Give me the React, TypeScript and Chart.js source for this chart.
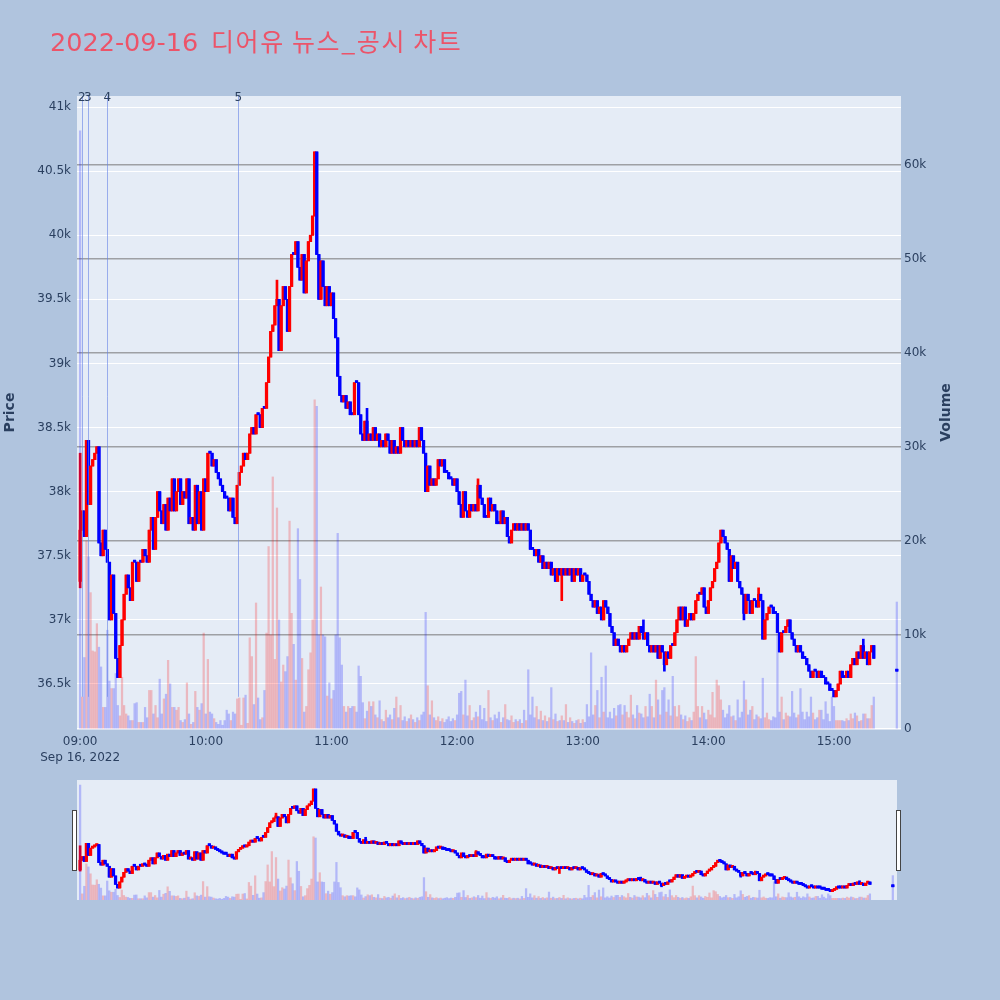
import React, { useEffect, useRef } from "react";
import { Chart, registerables } from "chart.js";

Chart.register(...registerables);

const TITLE_DATE = "2022-09-16";
const TITLE_TEXT = "디어유 뉴스_공시 차트";
const firstOpen = 37300;

// per-minute closes from 09:00 (minute 0) to 15:19 (minute 379)
const closes = [
  37700, 37850, 37650, 38400, 37900, 38200, 38250, 38300, 38350, 37600,
  37500, 37700, 37550, 37450, 37000, 37350, 37050, 36700, 36550, 36800,
  37000, 37200, 37350, 37250, 37150, 37450, 37450, 37300, 37450, 37450,
  37550, 37500, 37450, 37700, 37800, 37550, 37800, 38000, 37850, 37750,
  37900, 37700, 37950, 37850, 38100, 37850, 38000, 38100, 37900, 38000,
  37950, 38100, 37750, 37800, 37700, 38050, 37750, 38000, 37700, 38100,
  38000, 38300, 38300, 38200, 38250, 38150, 38100, 38050, 38000, 37950,
  37950, 37850, 37950, 37800, 37750, 38050, 38150, 38200, 38300, 38250,
  38300, 38450, 38500, 38450, 38600, 38600, 38500, 38650, 38650, 38850,
  39050, 39250, 39300, 39450, 39500, 39100, 39450, 39600, 39500, 39250,
  39600, 39850, 39850, 39950, 39750, 39650, 39850, 39550, 39800, 39950,
  40000, 40150, 40650, 39850, 39500, 39800, 39600, 39450, 39600, 39450,
  39550, 39350, 39200, 38900, 38750, 38700, 38750, 38650, 38700, 38600,
  38600, 38850, 38850, 38600, 38450, 38400, 38550, 38400, 38450, 38400,
  38500, 38400, 38450, 38350, 38400, 38350, 38450, 38400, 38300, 38400,
  38300, 38350, 38300, 38500, 38400, 38350, 38400, 38350, 38400, 38350,
  38400, 38350, 38500, 38400, 38300, 38000, 38200, 38050, 38100, 38050,
  38100, 38250, 38200, 38250, 38150, 38150, 38100, 38100, 38050, 38100,
  38000, 37900, 37800, 38000, 37850, 37800, 37900, 37850, 37900, 37850,
  38050, 37950, 37900, 37800, 37800, 37950, 37850, 37900, 37850, 37750,
  37750, 37850, 37750, 37800, 37650, 37600, 37700, 37750, 37700, 37750,
  37700, 37750, 37700, 37750, 37700, 37550, 37550, 37500, 37550, 37450,
  37500, 37400, 37450, 37400, 37450, 37350, 37400, 37300, 37400, 37350,
  37400, 37350, 37400, 37350, 37400, 37300, 37400, 37350, 37400, 37300,
  37350, 37350, 37300, 37200, 37150, 37100, 37150, 37050, 37100, 37000,
  37150, 37100, 37050, 36950, 36900, 36800, 36850, 36800, 36750, 36800,
  36750, 36800, 36850, 36900, 36850, 36900, 36850, 36950, 36900, 36850,
  36900, 36800, 36750, 36800, 36750, 36800, 36700, 36800, 36750, 36650,
  36750, 36700, 36800, 36800, 36900, 37000, 37100, 37000, 37100, 36950,
  37000, 37050, 37000, 37050, 37150, 37200, 37200, 37250, 37100, 37050,
  37150, 37250, 37300, 37400, 37450, 37600, 37700, 37650, 37600, 37550,
  37300, 37500, 37400, 37450, 37300, 37250, 37200, 37050, 37200, 37150,
  37050, 37150, 37150, 37100, 37200, 37150, 36850, 37000, 37050, 37100,
  37100, 37050, 37050, 36900, 36750, 36900, 36900, 36950, 37000, 36900,
  36850, 36800, 36750, 36800, 36750, 36700, 36700, 36650, 36600, 36550,
  36600, 36600, 36550, 36600, 36550, 36550, 36500, 36500, 36450, 36450,
  36400, 36450, 36500, 36600, 36550, 36550, 36600, 36550, 36650, 36700,
  36650, 36750, 36700, 36800, 36700, 36750, 36650, 36750, 36800, 36700,
];

const volumes = [
  63600, 3400, 7600, 20000, 18300, 14500, 8300, 8200, 11200, 8700,
  6600, 2300, 2300, 10500, 5100, 4300, 4300, 5900, 2500, 1400,
  5500, 2500, 1600, 1400, 900, 900, 2700, 2800, 700, 700,
  700, 2300, 1200, 4100, 4100, 1600, 2500, 1200, 5300, 1600,
  3200, 3700, 7300, 4800, 2300, 2300, 2000, 2300, 900, 700,
  1000, 4900, 1600, 500, 700, 4000, 2300, 2000, 2700, 10200,
  1600, 7400, 1800, 1600, 1100, 700, 500, 900, 400, 900,
  2000, 1600, 900, 1800, 1600, 3200, 3300, 400, 3300, 3600,
  600, 9700, 7700, 2600, 13400, 3300, 1000, 1200, 4100, 10200,
  19400, 10000, 26800, 7400, 23500, 11600, 5000, 6800, 6100, 7700,
  22100, 12300, 9000, 5200, 21300, 15900, 7500, 1800, 2400, 6300,
  8100, 11600, 35000, 34300, 10000, 15100, 10000, 9800, 3500, 4900,
  3200, 4100, 10000, 20800, 9700, 6800, 2400, 1800, 2400, 2200,
  2400, 2400, 1800, 6700, 5600, 2800, 1100, 1900, 2900, 2400,
  2900, 1500, 1200, 3000, 1000, 800, 2000, 1200, 1500, 1000,
  2200, 3400, 1200, 2500, 900, 1300, 800, 1100, 1500, 1000,
  700, 1200, 900, 1500, 1800, 12400, 4600, 1500, 3000, 1200,
  900, 1300, 800, 1100, 700, 1000, 1300, 800, 1100, 900,
  1500, 3800, 4000, 1500, 5200, 1400, 2500, 900, 1200, 1800,
  1300, 2500, 1000, 2200, 800, 4100, 1200, 900, 1500, 1100,
  1800, 700, 1200, 2600, 1000, 900, 1400, 700, 1000, 800,
  1000, 600, 2000, 900, 6300, 1500, 3400, 1200, 2400, 1000,
  1900, 900, 1400, 800, 1200, 4400, 1000, 1600, 800, 900,
  1400, 900, 2600, 700, 1200, 800, 600, 900, 1000, 600,
  1000, 700, 2600, 1300, 8100, 1500, 2500, 4100, 1200, 5500,
  1800, 6700, 1200, 1800, 1100, 2200, 1400, 2500, 2600, 1500,
  2500, 1800, 1200, 3600, 1500, 1100, 2500, 1700, 1600, 1200,
  2400, 1300, 3700, 2400, 1200, 5200, 3100, 1500, 4100, 4400,
  1800, 3100, 1400, 5600, 2400, 1300, 2500, 1500, 1000, 1400,
  800, 1200, 900, 1800, 7700, 2400, 1200, 2400, 1700, 1000,
  2000, 1500, 3900, 1200, 5200, 4600, 3100, 2000, 1200, 1600,
  2500, 1300, 1400, 900, 3100, 1200, 1800, 5100, 3100, 1500,
  2000, 2400, 1000, 1500, 1300, 1100, 5400, 1200, 1700, 1000,
  900, 1300, 1200, 10100, 1800, 3400, 1000, 1700, 1400, 1300,
  4000, 1700, 1200, 1500, 4300, 1800, 1000, 1800, 1300, 3400,
  1700, 1000, 1200, 2000, 2000, 1000, 2900, 1600, 800, 3400,
  2400, 900, 900, 900, 900, 800, 1100, 900, 1600, 1100,
  1700, 1400, 800, 900, 1600, 1600, 1100, 1100, 2500, 3400,
];

// closing auction at 15:30
const auctionMinute = 390;
const auctionPrice = 36600;
const auctionVolume = 13500;

// [minute, low, high] where the wick reaches past the body
const wickExtremes = [
  [0, 37250, 38300],
  [94, 39450, 39650],
  [137, 38400, 38650],
  [190, 37850, 38100],
  [230, 37150, 37400],
  [269, 36850, 37000],
  [279, 36600, 36750],
  [317, 37000, 37200],
  [324, 37100, 37250],
  [374, 36700, 36850],
];

const newsMinutes = [0.8, 3.7, 13.0, 75.5];
const newsLabels = ["2", "3", "4", "5"];

const priceTicks = [36500, 37000, 37500, 38000, 38500, 39000, 39500, 40000, 40500, 41000];
const volumeTicks = [0, 10000, 20000, 30000, 40000, 50000, 60000];
const hourTicks = [0, 60, 120, 180, 240, 300, 360];
const hourLabels = ["09:00", "10:00", "11:00", "12:00", "13:00", "14:00", "15:00"];
const dateLabel = "Sep 16, 2022";

const FONT = '"DejaVu Sans", Verdana, sans-serif';
const TEXT = "#2a3f5f";
const PAGE_BG = "#B0C4DE";
const PLOT_BG = "#E5ECF6";
const UP = "#FF0000";
const DOWN = "#0000FF";
const UP_VOL = "rgba(255,0,0,0.22)";
const DOWN_VOL = "rgba(0,0,255,0.22)";
const TITLE_COLOR = "rgb(236,84,105)";

function buildSeries() {
  const mins = closes.map((_, i) => i).concat([auctionMinute]);
  const cls = closes.concat([auctionPrice]);
  const vols = volumes.concat([auctionVolume]);
  const opens = cls.map((c, i) =>
    i === 0 ? firstOpen : i === closes.length ? auctionPrice : cls[i - 1]
  );
  const lows = cls.map((c, i) => Math.min(c, opens[i]));
  const highs = cls.map((c, i) => Math.max(c, opens[i]));
  wickExtremes.forEach(([m, lo, hi]) => {
    lows[m] = Math.min(lows[m], lo);
    highs[m] = Math.max(highs[m], hi);
  });
  const candleColors = cls.map((c, i) => (c > opens[i] ? UP : DOWN));
  const volColors = cls.map((c, i) => (i > 0 && c > cls[i - 1] ? UP_VOL : DOWN_VOL));
  const dayLow = Math.min(...lows);
  return { mins, cls, vols, opens, lows, highs, candleColors, volColors, dayLow };
}

function makeDatasets(s: any, yId: string, vId: string) {
  return [
    {
      type: "bar",
      label: "volume",
      yAxisID: vId,
      data: s.mins.map((m: number, i: number) => ({ x: m, y: s.vols[i] })),
      backgroundColor: s.volColors,
      borderWidth: 0,
      barThickness: 1.6,
      grouped: false,
      order: 0,
    },
    {
      type: "bar",
      label: "body",
      yAxisID: yId,
      data: s.mins.map((m: number, i: number) => ({
        x: m,
        y: [Math.min(s.opens[i], s.cls[i]), Math.max(s.opens[i], s.cls[i])],
      })),
      backgroundColor: s.candleColors,
      borderWidth: 0,
      barThickness: 2.6,
      minBarLength: 2,
      grouped: false,
      order: 1,
    },
    {
      type: "bar",
      label: "wick",
      yAxisID: yId,
      data: s.mins.map((m: number, i: number) => ({ x: m, y: [s.lows[i], s.highs[i]] })),
      backgroundColor: s.candleColors,
      borderWidth: 0,
      barThickness: 2,
      minBarLength: 2,
      grouped: false,
      order: 2,
    },
  ];
}

export default function App() {
  const mainRef = useRef<HTMLCanvasElement>(null);
  const sliderRef = useRef<HTMLCanvasElement>(null);

  useEffect(() => {
    const s = buildSeries();

    const mainDecor = {
      id: "mainDecor",
      beforeDraw(chart: any) {
        const { ctx, chartArea: a } = chart;
        ctx.save();
        ctx.fillStyle = PLOT_BG;
        ctx.fillRect(a.left, a.top, a.right - a.left, a.bottom - a.top);
        ctx.restore();
      },
      afterDatasetsDraw(chart: any) {
        const { ctx, chartArea: a } = chart;
        const xs = chart.scales.x;
        const ys = chart.scales.y;
        const yBottom = ys.getPixelForValue(s.dayLow);
        ctx.save();
        ctx.strokeStyle = "rgba(100,130,230,0.6)";
        ctx.lineWidth = 1;
        newsMinutes.forEach((m) => {
          const x = Math.round(xs.getPixelForValue(m)) + 0.5;
          ctx.beginPath();
          ctx.moveTo(x, a.top);
          ctx.lineTo(x, yBottom);
          ctx.stroke();
        });
        ctx.restore();
      },
      afterDraw(chart: any) {
        const { ctx, chartArea: a } = chart;
        const xs = chart.scales.x;
        ctx.save();
        // title: date part and Korean part
        ctx.fillStyle = TITLE_COLOR;
        ctx.textAlign = "left";
        ctx.textBaseline = "alphabetic";
        ctx.font = `25.5px "DejaVu Sans", sans-serif`;
        ctx.fillText(TITLE_DATE, 50, 51);
        ctx.font = `25px "Noto Sans CJK KR", "DejaVu Sans", sans-serif`;
        try {
          (ctx as any).letterSpacing = "1.6px";
        } catch (e) {}
        ctx.fillText(TITLE_TEXT, 211, 51);
        try {
          (ctx as any).letterSpacing = "0px";
        } catch (e) {}
        // news labels
        ctx.fillStyle = TEXT;
        ctx.font = `12px ${FONT}`;
        ctx.textAlign = "center";
        newsMinutes.forEach((m, i) => {
          ctx.fillText(newsLabels[i], xs.getPixelForValue(m), a.top + 5);
        });
        // axis titles
        const midY = (a.top + a.bottom) / 2;
        ctx.font = `bold 14px ${FONT}`;
        ctx.textBaseline = "middle";
        ctx.translate(10, midY);
        ctx.rotate(-Math.PI / 2);
        ctx.fillText("Price", 0, 0);
        ctx.rotate(Math.PI / 2);
        ctx.translate(936, 0);
        ctx.rotate(-Math.PI / 2);
        ctx.fillText("Volume", 0, 0);
        ctx.restore();
      },
    };

    const tickFont = { family: FONT, size: 12 };

    const main = new Chart(mainRef.current as HTMLCanvasElement, {
      type: "bar",
      data: { datasets: makeDatasets(s, "y", "yv") as any },
      options: {
        animation: false,
        responsive: false,
        maintainAspectRatio: false,
        devicePixelRatio: 1,
        layout: { padding: { top: 96, left: 0, right: 0, bottom: 0 } },
        plugins: { legend: { display: false }, tooltip: { enabled: false } },
        scales: {
          x: {
            type: "linear",
            min: -1.5,
            max: 392,
            offset: false,
            grid: { display: false, drawTicks: false },
            border: { display: false },
            ticks: {
              color: TEXT,
              font: { ...tickFont, lineHeight: 1.4 },
              padding: 4,
              maxRotation: 0,
              autoSkip: false,
              callback: (v: any) => {
                const idx = hourTicks.indexOf(Number(v));
                if (idx < 0) return "";
                return idx === 0 ? [hourLabels[0], dateLabel] : hourLabels[idx];
              },
            },
            afterBuildTicks: (sc: any) => {
              sc.ticks = hourTicks.map((v) => ({ value: v }));
            },
            afterFit: (sc: any) => {
              sc.height = 51;
            },
          },
          y: {
            position: "left",
            min: 36149,
            max: 41086,
            grid: { color: "#ffffff", lineWidth: 1, drawTicks: false },
            border: { display: false },
            ticks: {
              color: TEXT,
              font: tickFont,
              padding: 6,
              autoSkip: false,
              callback: (v: any) => `${Number(v) / 1000}k`,
            },
            afterBuildTicks: (sc: any) => {
              sc.ticks = priceTicks.map((v) => ({ value: v }));
            },
            afterFit: (sc: any) => {
              sc.width = 77;
            },
          },
          yv: {
            position: "right",
            min: 0,
            max: 67300,
            grid: {
              color: (ctx: any) =>
                ctx.tick && ctx.tick.value === 0 ? "#ffffff" : "rgba(110,110,110,0.6)",
              lineWidth: 1.5,
              drawTicks: false,
            },
            border: { display: false },
            ticks: {
              color: TEXT,
              font: tickFont,
              padding: 3,
              autoSkip: false,
              callback: (v: any) => (Number(v) === 0 ? "0" : `${Number(v) / 1000}k`),
            },
            afterBuildTicks: (sc: any) => {
              sc.ticks = volumeTicks.map((v) => ({ value: v }));
            },
            afterFit: (sc: any) => {
              sc.width = 99;
            },
          },
        },
      } as any,
      plugins: [mainDecor],
    });

    const sliderDecor = {
      id: "sliderDecor",
      beforeDraw(chart: any) {
        const { ctx, chartArea: a } = chart;
        ctx.save();
        ctx.fillStyle = PLOT_BG;
        ctx.fillRect(a.left, a.top, a.right - a.left, a.bottom - a.top);
        ctx.restore();
      },
      afterDraw(chart: any) {
        const { ctx, chartArea: a } = chart;
        ctx.save();
        ctx.fillStyle = "#ffffff";
        ctx.strokeStyle = "#444444";
        ctx.lineWidth = 1;
        const hTop = a.top + 30.5;
        const hH = 60;
        [a.left - 4.5, a.right - 0.5].forEach((x) => {
          ctx.fillRect(x, hTop, 4, hH);
          ctx.strokeRect(x, hTop, 4, hH);
        });
        ctx.restore();
      },
    };

    const slider = new Chart(sliderRef.current as HTMLCanvasElement, {
      type: "bar",
      data: { datasets: makeDatasets(s, "sy", "syv") as any },
      options: {
        animation: false,
        responsive: false,
        maintainAspectRatio: false,
        devicePixelRatio: 1,
        layout: { padding: { top: 0, left: 77, right: 103, bottom: 0 } },
        plugins: { legend: { display: false }, tooltip: { enabled: false } },
        scales: {
          x: { type: "linear", display: false, min: -1.5, max: 392, offset: false },
          sy: { display: false, min: 36053, max: 41023 },
          syv: { display: false, min: 0, max: 66400 },
        },
      } as any,
      plugins: [sliderDecor],
    });

    return () => {
      main.destroy();
      slider.destroy();
    };
  }, []);

  return (
    <div
      style={{
        position: "absolute",
        left: 0,
        top: 0,
        width: 1000,
        height: 1000,
        background: PAGE_BG,
        overflow: "hidden",
      }}
    >
      <canvas
        ref={mainRef}
        width={1000}
        height={780}
        style={{ position: "absolute", left: 0, top: 0, width: 1000, height: 780 }}
      />
      <canvas
        ref={sliderRef}
        width={1000}
        height={120}
        style={{ position: "absolute", left: 0, top: 780, width: 1000, height: 120 }}
      />
    </div>
  );
}
